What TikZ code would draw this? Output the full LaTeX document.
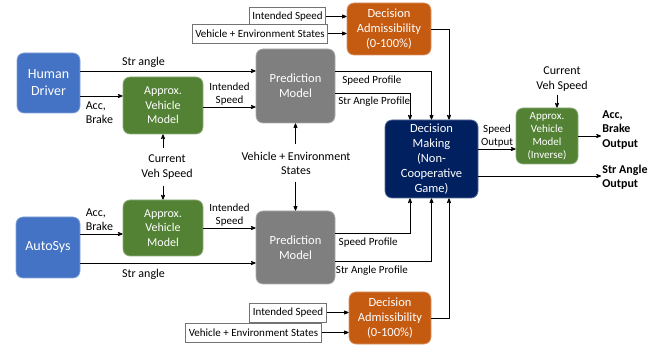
\documentclass[tikz,border=0pt]{standalone}
\usepackage{fontspec}
\setmainfont{Carlito}
\usepackage{tikz}
\usetikzlibrary{arrows,positioning}

\definecolor{drvblue}{HTML}{4472C4}
\definecolor{avmgreen}{HTML}{548235}
\definecolor{predgray}{HTML}{7F7F7F}
\definecolor{admorange}{HTML}{C55A11}
\definecolor{dmnavy}{HTML}{002060}

\newcommand{\bigfont}{\fontsize{12.5}{15}\selectfont}
\newcommand{\lblfont}{\fontsize{11}{13}\selectfont}

\tikzset{
  blk/.style={rounded corners=7pt, draw=#1!65!white, fill=#1, text=white,
    align=center, font=\bigfont, inner sep=1pt},
  inbox/.style={draw=black!55, fill=white, font=\lblfont, minimum height=19pt,
    inner sep=3pt},
  lbl/.style={font=\lblfont, align=center, inner sep=1.5pt},
  outlbl/.style={font=\fontsize{12}{14.5}\selectfont\bfseries, align=left, inner sep=1pt}
}

\begin{document}
\begin{tikzpicture}[x=1pt, y=-1pt, >=stealth', line width=0.75pt]
    \useasboundingbox (0,0) rectangle (672,347);

    % drivers
    \node[blk=drvblue, minimum width=63pt, minimum height=60pt, font=\fontsize{14}{17}\selectfont]
        (hd) at (48.5,83) {Human\\Driver};
    \node[blk=drvblue, minimum width=64pt, minimum height=61pt, font=\fontsize{14}{17}\selectfont]
        (as) at (48,247.5) {AutoSys};

    % approx. vehicle models
    \node[blk=avmgreen, minimum width=80pt, minimum height=57pt, font=\fontsize{12}{14.5}\selectfont]
        (avmA) at (163,105.5) {Approx.\\Vehicle\\Model};
    \node[blk=avmgreen, minimum width=80pt, minimum height=56pt, font=\fontsize{12}{14.5}\selectfont]
        (avmB) at (163,228) {Approx.\\Vehicle\\Model};

    % prediction models
    \node[blk=predgray, minimum width=79pt, minimum height=74pt] (pmA) at (295.5,86) {Prediction\\Model};
    \node[blk=predgray, minimum width=79pt, minimum height=73pt] (pmB) at (295.5,247.5) {Prediction\\Model};

    % admissibility
    \node[blk=admorange, minimum width=84pt, minimum height=52pt] (admA) at (389,29)
        {Decision\\Admissibility\\(0-100\%)};
    \node[blk=admorange, minimum width=82pt, minimum height=52pt] (admB) at (390,318)
        {Decision\\Admissibility\\(0-100\%)};

    \node[inbox] (isA) at (287.5,16.5) {Intended Speed};
    \node[inbox] (veA) at (260,33.5) {Vehicle + Environment States};
    \node[inbox] (isB) at (288,312.5) {Intended Speed};
    \node[inbox] (veB) at (253.5,332.5) {Vehicle + Environment States};

    % decision making
    \node[blk=dmnavy, minimum width=93pt, minimum height=78pt] (dm) at (431.5,159)
        {Decision\\Making\\(Non-\\Cooperative\\Game)};
    \node[blk=avmgreen, minimum width=62pt, minimum height=56pt, font=\fontsize{11}{13}\selectfont]
        (avmC) at (547,136) {Approx.\\Vehicle\\Model\\(Inverse)};

    % free labels
    \node[lbl, font=\fontsize{12}{15}\selectfont, inner sep=6pt] (cvs) at (167,167) {Current\\Veh Speed};
    \node[lbl, font=\fontsize{12}{14}\selectfont, inner sep=7pt] (ves) at (296,163) {Vehicle + Environment\\States};
    \node[lbl, font=\fontsize{12}{15}\selectfont, inner sep=3pt] (cvsC) at (562,79) {Current\\Veh Speed};
    \node[outlbl, anchor=west] (outA) at (601,130) {Acc,\\Brake\\Output};
    \node[outlbl, anchor=west] (outB) at (601,177) {Str Angle\\Output};

    % human driver side
    \draw[->] ([yshift=12pt]hd.east) coordinate (s1) -- node[above, pos=.36, font=\fontsize{12}{14}\selectfont] {Str angle} (s1 -| pmA.west);
    \draw[->] ([yshift=-13pt]hd.east) coordinate (s2) -- node[below, pos=.45, align=left, font=\fontsize{12}{14}\selectfont, yshift=-2pt] {Acc,\\Brake} (s2 -| avmA.west);
    \draw[->] ([yshift=-1.5pt]avmA.east) coordinate (s3) -- node[lbl, above] {Intended\\Speed} (s3 -| pmA.west);
    \draw[->] ([yshift=15pt]pmA.east) -| node[lbl, below, pos=.19, yshift=-3pt] {Speed Profile} (dm.north);
    \draw[->] ([yshift=-7pt]pmA.east) -| node[lbl, below, pos=.26, yshift=-2pt] {Str Angle Profile} ([xshift=-21.5pt]dm.north);
    \draw[->] (isA.east) -- (isA.east -| admA.west);
    \draw[->] (veA.east) -- (veA.east -| admA.west);
    \draw[->] (admA.east) -| ([xshift=17.5pt]dm.north);
    \draw[->] (cvs.north -| avmA.south) -- (avmA.south);
    \draw[->] (ves.north -| pmA.south) -- (pmA.south);

    % autosys side
    \draw[->] ([yshift=13.5pt]as.east) coordinate (t1) -- node[above, pos=.45, align=left, font=\fontsize{12}{14}\selectfont] {Acc,\\Brake} (t1 -| avmB.west);
    \draw[->] ([yshift=-15.5pt]as.east) coordinate (t2) -- node[below, pos=.36, font=\fontsize{12}{14}\selectfont, yshift=-2pt] {Str angle} (t2 -| pmB.west);
    \draw[->] (avmB.east) -- node[lbl, above] {Intended\\Speed} (avmB.east -| pmB.west);
    \draw[->] ([yshift=14.5pt]pmB.east) -| node[lbl, below, pos=.22, yshift=-3pt] {Speed Profile} ([xshift=-21.5pt]dm.south);
    \draw[->] ([yshift=-13.5pt]pmB.east) -| node[lbl, below, pos=.19, yshift=-3pt] {Str Angle Profile} (dm.south);
    \draw[->] (isB.east) -- (isB.east -| admB.west);
    \draw[->] (veB.east) -- (veB.east -| admB.west);
    \draw[->] (admB.east) -| ([xshift=17.5pt]dm.south);
    \draw[->] (cvs.south -| avmB.north) -- (avmB.north);
    \draw[->] (ves.south -| pmB.north) -- (pmB.north);

    % outputs
    \draw[->] ([yshift=10pt]dm.east) coordinate (u1) -- node[lbl, above] {Speed\\Output} (u1 -| avmC.west);
    \draw[->] ([xshift=-5pt]cvsC.south) coordinate (u2) -- (u2 |- avmC.north);
    \draw[->] (avmC.east) -- (avmC.east -| outA.west);
    \draw[->] ([yshift=-17pt]dm.east) coordinate (u3) -- (u3 -| outB.west);
\end{tikzpicture}
\end{document}
